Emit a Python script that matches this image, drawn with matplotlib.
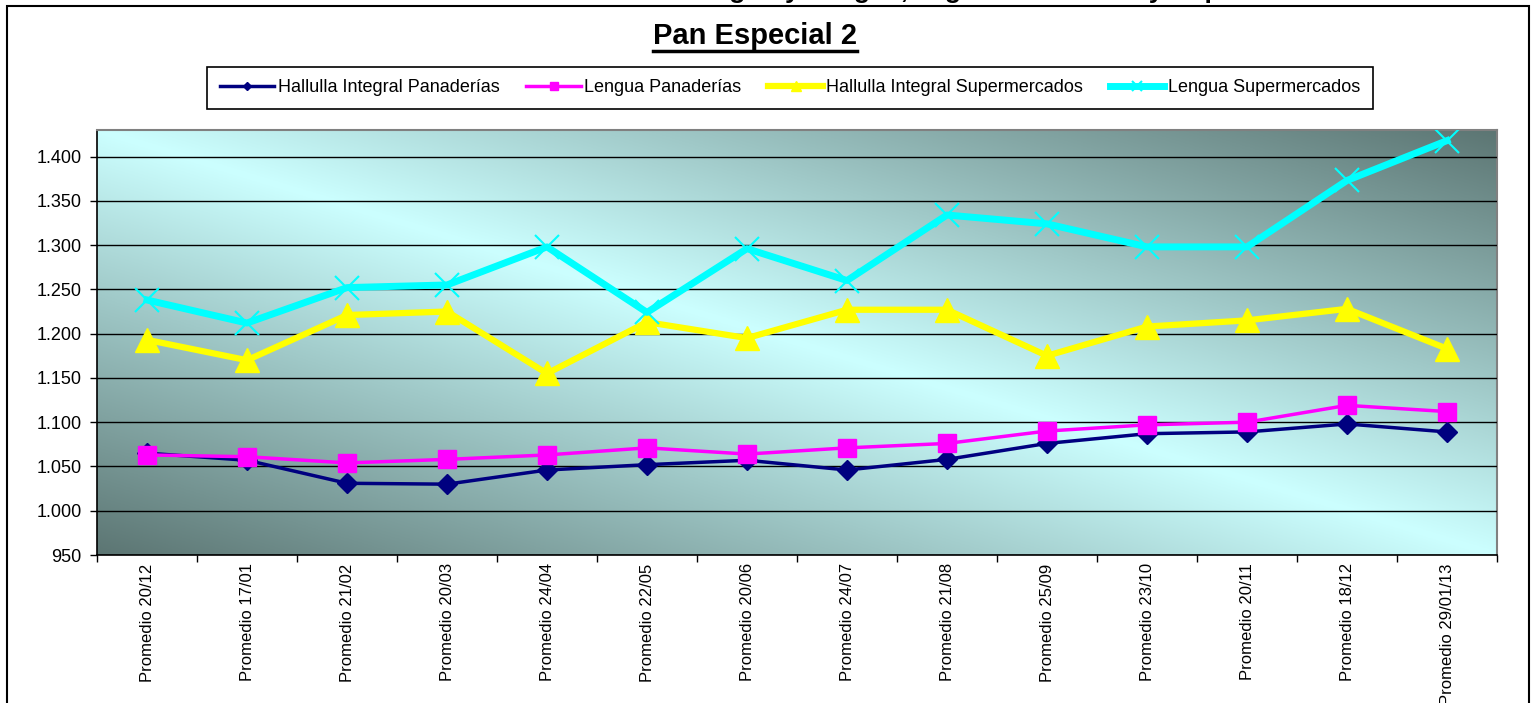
import numpy as np
import matplotlib.pyplot as plt
from matplotlib.lines import Line2D
from matplotlib.patches import Rectangle
from matplotlib.ticker import FuncFormatter, FixedLocator

plt.rcParams['font.family'] = ['Liberation Sans', 'DejaVu Sans']

# data
fechas = ['20/12', '17/01', '21/02', '20/03', '24/04', '22/05', '20/06',
          '24/07', '21/08', '25/09', '23/10', '20/11', '18/12', '29/01/13']
etiquetas = ['Promedio ' + f for f in fechas]

hallulla_pan = [1065, 1057, 1031, 1030, 1046, 1052, 1057, 1046, 1058, 1076, 1087, 1089, 1098, 1089]
lengua_pan = [1063, 1061, 1054, 1058, 1063, 1071, 1064, 1071, 1076, 1090, 1097, 1100, 1119, 1112]
hallulla_sup = [1193, 1170, 1221, 1225, 1155, 1213, 1195, 1227, 1227, 1175, 1208, 1215, 1228, 1183]
lengua_sup = [1238, 1212, 1252, 1255, 1298, 1224, 1296, 1260, 1334, 1324, 1298, 1298, 1373, 1418]

series = [
    ('Hallulla Integral Panaderías', hallulla_pan, '#000080', 'D', 2.5, 10),
    ('Lengua Panaderías', lengua_pan, '#ff00ff', 's', 2.5, 13),
    ('Hallulla Integral Supermercados', hallulla_sup, '#ffff00', '^', 4.5, 17),
    ('Lengua Supermercados', lengua_sup, '#00ffff', 'x', 5, 17),
]

fig = plt.figure(figsize=(15.35, 7.03), dpi=100)
W, H = 1535, 703

# outer frame of the chart
fig.patches.append(Rectangle((7 / W, -0.1), (1529 - 7) / W, 1.1 - 6 / H,
                             transform=fig.transFigure, fill=False,
                             edgecolor='black', linewidth=1.5))

ax = fig.add_axes([97 / W, 1 - 555 / H, (1497 - 97) / W, (555 - 130) / H])
x = np.arange(len(fechas))

# diagonal gradient background
n = 300
u, v = np.meshgrid(np.linspace(0, 1, n), np.linspace(1, 0, n))
d = np.abs(u + v - 1)
light = np.array([0.80, 1.0, 1.0])
dark = np.array([0.36, 0.46, 0.45])
img = light + (dark - light) * d[..., None]
ax.imshow(img, extent=[0, 1, 0, 1], transform=ax.transAxes, aspect='auto', zorder=0)

for nombre, vals, col, mk, lw, ms in series:
    if mk == 'x':
        ax.plot(x, vals, color=col, lw=lw, marker=mk, ms=ms, mew=1.5, label=nombre, zorder=3)
    else:
        ax.plot(x, vals, color=col, lw=lw, marker=mk, ms=ms, mec=col, label=nombre, zorder=3)

ax.set_xlim(-0.5, 13.5)
ax.set_ylim(950, 1430)
ax.set_yticks(np.arange(950, 1401, 50))
ax.yaxis.set_major_formatter(FuncFormatter(lambda val, p: f'{int(val):,}'.replace(',', '.')))
ax.yaxis.grid(True, color='black', lw=1, zorder=1)
ax.set_axisbelow(False)

ax.set_xticks(x)
ax.set_xticklabels(etiquetas, rotation=90, fontsize=12, color='black')
ax.tick_params(axis='x', length=0, pad=6)
ax.xaxis.set_minor_locator(FixedLocator(np.arange(-0.5, 13.6, 1)))
ax.tick_params(axis='x', which='minor', length=5, width=1, direction='out')
ax.tick_params(axis='y', length=5, width=1, labelsize=13, pad=6)

for s in ['top', 'right']:
    ax.spines[s].set_color('#808080')
    ax.spines[s].set_linewidth(1.5)
for s in ['left', 'bottom']:
    ax.spines[s].set_color('black')
    ax.spines[s].set_linewidth(1.2)

# titles
fig.text(0.5, 1 + 9 / H, 'Evolución de Precios Nominales Hallulla Integral y Lengua, según Panaderías y Supermercados',
         ha='center', va='center', fontsize=19, fontweight='bold')
t = fig.text(755 / W, 1 - 36 / H, 'Pan Especial 2', ha='center', va='center',
             fontsize=21, fontweight='bold')
fig.canvas.draw()
bb = t.get_window_extent().transformed(fig.transFigure.inverted())
fig.add_artist(Line2D([bb.x0, bb.x1], [bb.y0 - 1 / H, bb.y0 - 1 / H],
                      transform=fig.transFigure, color='black', lw=2.5))

leg = ax.legend(loc='center', bbox_to_anchor=((210 + 1370) / 2 / W, 1 - 88 / H),
                bbox_transform=fig.transFigure, ncol=4, frameon=True, fancybox=False,
                edgecolor='black', framealpha=1, markerscale=0.45,
                prop={'size': 13}, handlelength=3.0,
                handletextpad=0.2, columnspacing=1.5, borderpad=0.7)
leg.get_frame().set_linewidth(1.2)

fig.savefig('out.png', dpi=100)
